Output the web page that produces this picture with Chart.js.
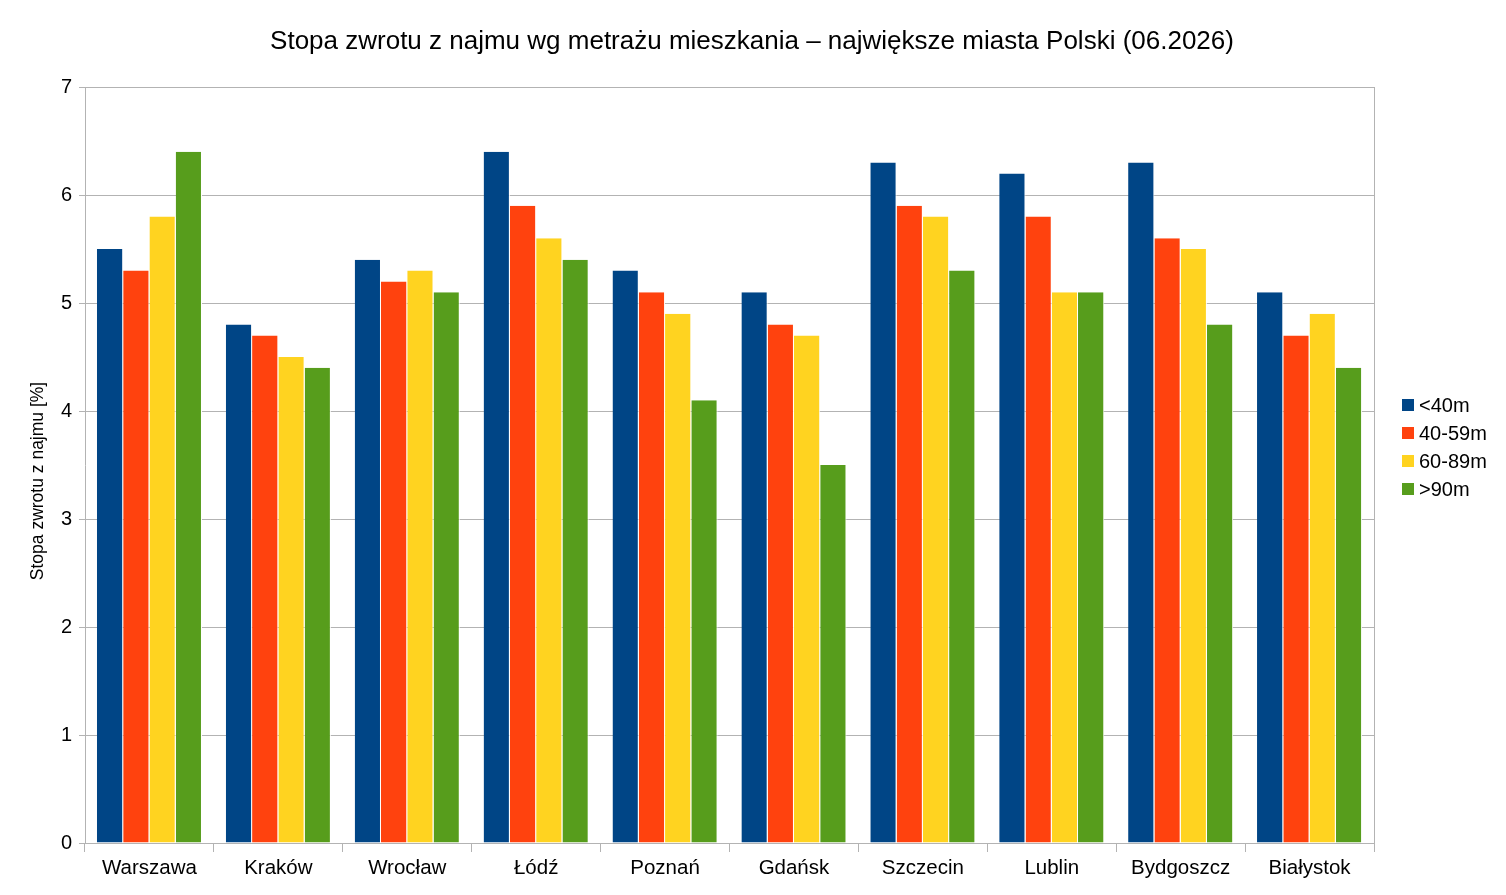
<!DOCTYPE html>
<html>
<head>
<meta charset="utf-8">
<script src="https://cdn.jsdelivr.net/npm/chart.js@4/dist/chart.umd.min.js"></script>
<style>
    html, body { margin: 0; padding: 0; background: #ffffff; }
    #wrap { width: 1506px; height: 895px; }
</style>
</head>
<body>
<div id="wrap"><canvas id="barChartPanel"></canvas></div>
<script>
const chartTitle = "Stopa zwrotu z najmu wg metrażu mieszkania – największe miasta Polski (06.2026)";
const yAxisTitle = "Stopa zwrotu z najmu [%]";

const cities = ["Warszawa", "Kraków", "Wrocław", "Łódź", "Poznań", "Gdańsk", "Szczecin", "Lublin", "Bydgoszcz", "Białystok"];
const seriesLabels = ["<40m", "40-59m", "60-89m", ">90m"];
const seriesColors = ["#004586", "#ff420e", "#ffd320", "#579d1c"];

const under40 = [5.5, 4.8, 5.4, 6.4, 5.3, 5.1, 6.3, 6.2, 6.3, 5.1];
const from40to59 = [5.3, 4.7, 5.2, 5.9, 5.1, 4.8, 5.9, 5.8, 5.6, 4.7];
const from60to89 = [5.8, 4.5, 5.3, 5.6, 4.9, 4.7, 5.8, 5.1, 5.5, 4.9];
const over90 = [6.4, 4.4, 5.1, 5.4, 4.1, 3.5, 5.3, 5.1, 4.8, 4.4];

const yTicks = [0, 1, 2, 3, 4, 5, 6, 7];

const fontFamily = "'Liberation Sans', Arial, sans-serif";
const gridColor = "#b3b3b3";

const seriesValues = [under40, from40to59, from60to89, over90];

const getDatasets = () => {
    return seriesValues.map((values, i) => ({
        label: seriesLabels[i],
        data: values,
        backgroundColor: seriesColors[i],
        borderColor: "#ffffff",
        borderWidth: { top: 0, left: 0, bottom: 0, right: 1 },
        borderSkipped: false,
        categoryPercentage: 0.815,
        barPercentage: 1.0,
    }));
}

// title, axis title, legend and plot frame drawn by hand so they sit where the original has them
const decorations = {
    id: "decorations",
    afterDraw(chart) {
        const ctx = chart.ctx;
        const area = chart.chartArea;
        ctx.save();

        ctx.fillStyle = "#000000";
        ctx.font = "26px " + fontFamily;
        ctx.textAlign = "center";
        ctx.textBaseline = "middle";
        ctx.fillText(chartTitle, chart.width / 2 - 1, 42);

        ctx.save();
        ctx.translate(38, 481);
        ctx.rotate(-Math.PI / 2);
        ctx.font = "17.5px " + fontFamily;
        ctx.fillText(yAxisTitle, 0, 0);
        ctx.restore();

        ctx.strokeStyle = gridColor;
        ctx.lineWidth = 1;
        ctx.beginPath();
        ctx.moveTo(Math.round(area.right) + 0.5, area.top);
        ctx.lineTo(Math.round(area.right) + 0.5, area.bottom);
        ctx.stroke();

        ctx.font = "20px " + fontFamily;
        ctx.textAlign = "left";
        chart.data.datasets.forEach((ds, i) => {
            const y = 405 + i * 28;
            ctx.fillStyle = ds.backgroundColor;
            ctx.fillRect(1402, y - 6, 12, 12);
            ctx.fillStyle = "#000000";
            ctx.fillText(ds.label, 1419, y + 1);
        });

        ctx.restore();
    }
};

const createChart = () => {
    return new Chart(document.getElementById("barChartPanel"), {
        type: "bar",
        data: {
            labels: cities,
            datasets: getDatasets(),
        },
        plugins: [decorations],
        options: {
            responsive: true,
            maintainAspectRatio: false,
            animation: false,
            layout: {
                padding: { top: 87, right: 132, left: 0, bottom: 0 },
            },
            plugins: {
                legend: { display: false },
                title: { display: false },
                tooltip: { enabled: false },
            },
            scales: {
                x: {
                    afterFit: (scale) => { scale.height = 52; },
                    grid: {
                        display: true,
                        drawOnChartArea: false,
                        drawTicks: true,
                        tickLength: 9,
                        color: gridColor,
                        offset: true,
                    },
                    border: { color: gridColor },
                    ticks: {
                        color: "#000000",
                        font: { family: fontFamily, size: 20.5 },
                        padding: 4,
                        maxRotation: 0,
                        autoSkip: false,
                    },
                },
                y: {
                    min: 0,
                    max: 7,
                    afterFit: (scale) => { scale.width = 85; },
                    afterBuildTicks: (scale) => {
                        scale.ticks = yTicks.map((v) => ({ value: v }));
                    },
                    grid: {
                        color: gridColor,
                        tickLength: 6,
                    },
                    border: { color: gridColor },
                    ticks: {
                        color: "#000000",
                        font: { family: fontFamily, size: 20 },
                        padding: 7,
                    },
                },
            },
        },
    });
}

createChart();
</script>
</body>
</html>
